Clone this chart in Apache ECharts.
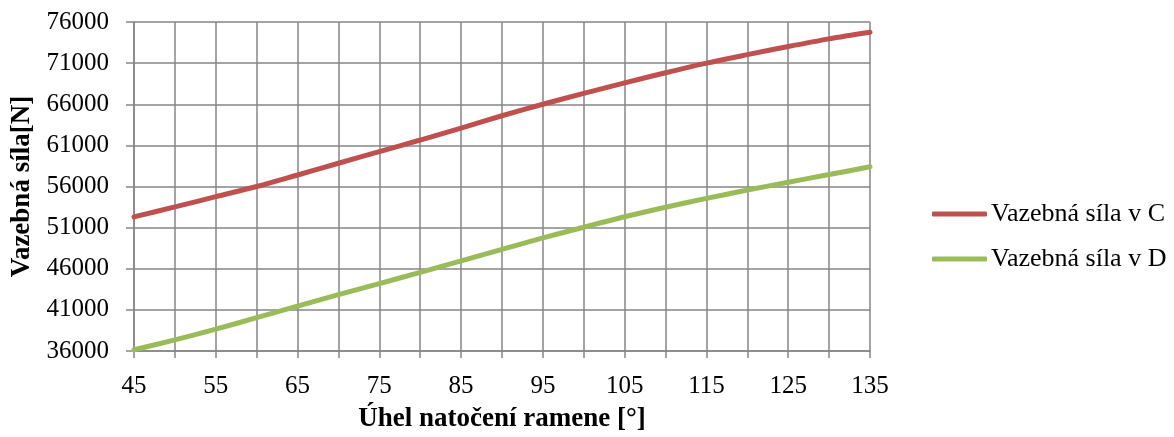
<!DOCTYPE html>
<html>
<head>
<meta charset="utf-8">
<script src="https://cdn.jsdelivr.net/npm/echarts@6/dist/echarts.min.js"></script>
<style>html,body{margin:0;padding:0;background:#fff}#c{width:1174px;height:437px}</style>
</head>
<body>
<div id="c"></div>
<script>
const angles = [45,50,55,60,65,70,75,80,85,90,95,100,105,110,115,120,125,130,135];
const silaC = [52300,53520,54760,56000,57400,58830,60250,61650,63100,64600,66000,67320,68600,69830,71000,72030,73020,73950,74750];
const silaD = [36150,37350,38650,40050,41450,42850,44200,45550,46950,48350,49750,51050,52320,53480,54550,55570,56520,57450,58400];
const yTicks = [36000,41000,46000,51000,56000,61000,66000,71000,76000];
const seriesNames = ['Vazebná síla v C','Vazebná síla v D'];
const xName = 'Úhel natočení ramene [°]';
const yName = 'Vazebná síla[N]';

const font = '"Liberation Serif", "Times New Roman", serif';
const gridColor = '#868686';
const chart = echarts.init(document.getElementById('c'));
chart.setOption({
  animation:false,
  textStyle:{fontFamily:font},
  grid:{left:134,right:304,top:22,bottom:86,containLabel:false,outerBoundsMode:'none'},
  legend:{
    orient:'vertical', left:927, top:196, itemGap:19,
    itemWidth:55, itemHeight:5, icon:'roundRect',
    textStyle:{fontFamily:font,fontSize:26,lineHeight:26,color:'#000',padding:[0,0,0,-1]},
    data:seriesNames
  },
  xAxis:{
    type:'value', min:45, max:135, interval:5,
    name:xName, nameLocation:'middle', nameGap:55,
    nameTextStyle:{fontFamily:font,fontSize:27,fontWeight:'bold',color:'#000'},
    axisLine:{lineStyle:{color:gridColor,width:1.5}},
    axisTick:{length:7,lineStyle:{color:gridColor,width:1.5}},
    axisLabel:{fontFamily:font,fontSize:25,color:'#000',margin:23,
      formatter:v=>((v-45)%10===0?String(v):'')},
    splitLine:{show:true,lineStyle:{color:gridColor,width:1.5}}
  },
  yAxis:{
    type:'value', min:yTicks[0], max:yTicks[yTicks.length-1], interval:5000,
    name:yName, nameLocation:'middle', nameGap:94,
    nameTextStyle:{fontFamily:font,fontSize:27,fontWeight:'bold',color:'#000'},
    axisLine:{show:true,lineStyle:{color:gridColor,width:1.5}},
    axisTick:{show:true,length:8,lineStyle:{color:gridColor,width:1.5}},
    axisLabel:{fontFamily:font,fontSize:25,color:'#000',margin:25,formatter:v=>String(v)},
    splitLine:{show:true,lineStyle:{color:gridColor,width:1.5}}
  },
  series:[
    {name:seriesNames[0],type:'line',smooth:0.3,showSymbol:false,
     lineStyle:{color:'#C0504D',width:5,cap:'round'},itemStyle:{color:'#C0504D'},
     data:angles.map((a,i)=>[a,silaC[i]])},
    {name:seriesNames[1],type:'line',smooth:0.3,showSymbol:false,
     lineStyle:{color:'#9BBB59',width:5,cap:'round'},itemStyle:{color:'#9BBB59'},
     data:angles.map((a,i)=>[a,silaD[i]])}
  ]
});
</script>
</body>
</html>
